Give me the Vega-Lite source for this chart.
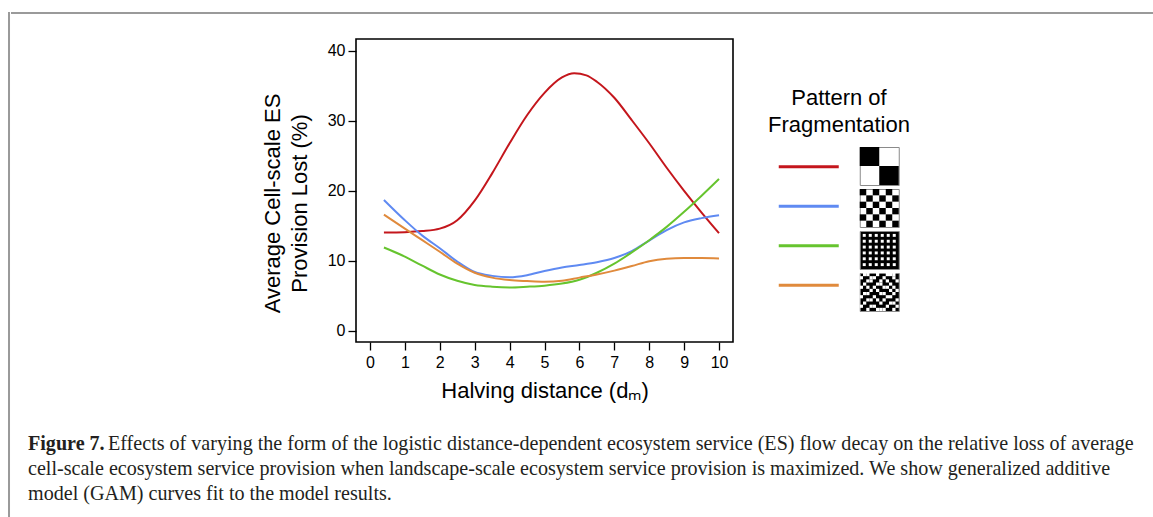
{
  "$schema": "https://vega.github.io/schema/vega-lite/v6.json",
  "background": "white",
  "padding": {"left": 8, "top": 12, "right": 0, "bottom": 0},
  "config": {
    "view": {"stroke": null},
    "font": "Liberation Sans",
    "axis": {
      "domain": false,
      "grid": false,
      "tickColor": "black",
      "tickWidth": 1.3,
      "tickSize": 8,
      "labelColor": "black",
      "labelFont": "Liberation Sans",
      "labelFontSize": 16,
      "titleColor": "black",
      "titleFont": "Liberation Sans",
      "titleFontWeight": "normal"
    }
  },
  "datasets": {
    "curves": [
      {"pattern": "Coarse blocks", "d": 0.4, "loss": 14.05}, {"pattern": "Coarse blocks", "d": 1, "loss": 14.1},
      {"pattern": "Coarse blocks", "d": 1.5, "loss": 14.25}, {"pattern": "Coarse blocks", "d": 2, "loss": 14.6},
      {"pattern": "Coarse blocks", "d": 2.5, "loss": 15.8}, {"pattern": "Coarse blocks", "d": 3, "loss": 18.6},
      {"pattern": "Coarse blocks", "d": 3.5, "loss": 22.5}, {"pattern": "Coarse blocks", "d": 4, "loss": 26.8},
      {"pattern": "Coarse blocks", "d": 4.5, "loss": 30.8}, {"pattern": "Coarse blocks", "d": 5, "loss": 34.0},
      {"pattern": "Coarse blocks", "d": 5.5, "loss": 36.2}, {"pattern": "Coarse blocks", "d": 5.85, "loss": 36.8},
      {"pattern": "Coarse blocks", "d": 6.2, "loss": 36.5}, {"pattern": "Coarse blocks", "d": 6.5, "loss": 35.6},
      {"pattern": "Coarse blocks", "d": 7, "loss": 33.3}, {"pattern": "Coarse blocks", "d": 7.5, "loss": 30.1},
      {"pattern": "Coarse blocks", "d": 8, "loss": 26.8}, {"pattern": "Coarse blocks", "d": 8.5, "loss": 23.3},
      {"pattern": "Coarse blocks", "d": 9, "loss": 20.0}, {"pattern": "Coarse blocks", "d": 9.5, "loss": 16.9},
      {"pattern": "Coarse blocks", "d": 10, "loss": 13.95},

      {"pattern": "Checkerboard", "d": 0.4, "loss": 18.7}, {"pattern": "Checkerboard", "d": 1, "loss": 15.8},
      {"pattern": "Checkerboard", "d": 1.5, "loss": 13.6}, {"pattern": "Checkerboard", "d": 2, "loss": 11.8},
      {"pattern": "Checkerboard", "d": 2.5, "loss": 9.9}, {"pattern": "Checkerboard", "d": 3, "loss": 8.4},
      {"pattern": "Checkerboard", "d": 3.5, "loss": 7.85}, {"pattern": "Checkerboard", "d": 4, "loss": 7.65},
      {"pattern": "Checkerboard", "d": 4.5, "loss": 7.95}, {"pattern": "Checkerboard", "d": 5, "loss": 8.55},
      {"pattern": "Checkerboard", "d": 5.5, "loss": 9.05}, {"pattern": "Checkerboard", "d": 6, "loss": 9.4},
      {"pattern": "Checkerboard", "d": 6.5, "loss": 9.8}, {"pattern": "Checkerboard", "d": 7, "loss": 10.4},
      {"pattern": "Checkerboard", "d": 7.5, "loss": 11.4}, {"pattern": "Checkerboard", "d": 8, "loss": 12.9},
      {"pattern": "Checkerboard", "d": 8.5, "loss": 14.4}, {"pattern": "Checkerboard", "d": 9, "loss": 15.5},
      {"pattern": "Checkerboard", "d": 9.5, "loss": 16.1}, {"pattern": "Checkerboard", "d": 10, "loss": 16.5},

      {"pattern": "Fine grid", "d": 0.4, "loss": 11.9}, {"pattern": "Fine grid", "d": 1, "loss": 10.6},
      {"pattern": "Fine grid", "d": 1.5, "loss": 9.3}, {"pattern": "Fine grid", "d": 2, "loss": 8.05},
      {"pattern": "Fine grid", "d": 2.5, "loss": 7.15}, {"pattern": "Fine grid", "d": 3, "loss": 6.55},
      {"pattern": "Fine grid", "d": 3.5, "loss": 6.3}, {"pattern": "Fine grid", "d": 4, "loss": 6.2},
      {"pattern": "Fine grid", "d": 4.5, "loss": 6.3}, {"pattern": "Fine grid", "d": 5, "loss": 6.45},
      {"pattern": "Fine grid", "d": 5.5, "loss": 6.75}, {"pattern": "Fine grid", "d": 6, "loss": 7.3},
      {"pattern": "Fine grid", "d": 6.5, "loss": 8.3}, {"pattern": "Fine grid", "d": 7, "loss": 9.6},
      {"pattern": "Fine grid", "d": 7.5, "loss": 11.2}, {"pattern": "Fine grid", "d": 8, "loss": 12.95},
      {"pattern": "Fine grid", "d": 8.5, "loss": 14.85}, {"pattern": "Fine grid", "d": 9, "loss": 17.0},
      {"pattern": "Fine grid", "d": 9.5, "loss": 19.3}, {"pattern": "Fine grid", "d": 10, "loss": 21.7},

      {"pattern": "Random", "d": 0.4, "loss": 16.6}, {"pattern": "Random", "d": 1, "loss": 14.6},
      {"pattern": "Random", "d": 1.5, "loss": 12.95}, {"pattern": "Random", "d": 2, "loss": 11.3},
      {"pattern": "Random", "d": 2.5, "loss": 9.6}, {"pattern": "Random", "d": 3, "loss": 8.3},
      {"pattern": "Random", "d": 3.5, "loss": 7.6}, {"pattern": "Random", "d": 4, "loss": 7.25},
      {"pattern": "Random", "d": 4.5, "loss": 7.1}, {"pattern": "Random", "d": 5, "loss": 7.0},
      {"pattern": "Random", "d": 5.5, "loss": 7.15}, {"pattern": "Random", "d": 6, "loss": 7.6},
      {"pattern": "Random", "d": 6.5, "loss": 8.05}, {"pattern": "Random", "d": 7, "loss": 8.6},
      {"pattern": "Random", "d": 7.5, "loss": 9.25}, {"pattern": "Random", "d": 8, "loss": 9.95},
      {"pattern": "Random", "d": 8.5, "loss": 10.3}, {"pattern": "Random", "d": 9, "loss": 10.4},
      {"pattern": "Random", "d": 9.5, "loss": 10.4}, {"pattern": "Random", "d": 10, "loss": 10.35}
    ],
    "patterns": [
      {"pattern": "Coarse blocks"}, {"pattern": "Checkerboard"}, {"pattern": "Fine grid"}, {"pattern": "Random"}
    ],
    "legendTitle": [
      {"k": 0, "t": "Pattern of"}, {"k": 1, "t": "Fragmentation"}
    ],
    "p1": [{"r": 0, "c": 0}, {"r": 1, "c": 1}],
    "p2": [
      {"r": 0, "c": 0}, {"r": 0, "c": 2}, {"r": 0, "c": 4},
      {"r": 1, "c": 1}, {"r": 1, "c": 3}, {"r": 1, "c": 5},
      {"r": 2, "c": 0}, {"r": 2, "c": 2}, {"r": 2, "c": 4},
      {"r": 3, "c": 1}, {"r": 3, "c": 3}, {"r": 3, "c": 5},
      {"r": 4, "c": 0}, {"r": 4, "c": 2}, {"r": 4, "c": 4},
      {"r": 5, "c": 1}, {"r": 5, "c": 3}, {"r": 5, "c": 5}
    ],
    "p3": [
      {"r": 1, "c": 1}, {"r": 1, "c": 3}, {"r": 1, "c": 5}, {"r": 1, "c": 7}, {"r": 1, "c": 9}, {"r": 1, "c": 11},
      {"r": 3, "c": 1}, {"r": 3, "c": 3}, {"r": 3, "c": 5}, {"r": 3, "c": 7}, {"r": 3, "c": 9}, {"r": 3, "c": 11},
      {"r": 5, "c": 1}, {"r": 5, "c": 3}, {"r": 5, "c": 5}, {"r": 5, "c": 7}, {"r": 5, "c": 9}, {"r": 5, "c": 11},
      {"r": 7, "c": 1}, {"r": 7, "c": 3}, {"r": 7, "c": 5}, {"r": 7, "c": 7}, {"r": 7, "c": 9}, {"r": 7, "c": 11},
      {"r": 9, "c": 1}, {"r": 9, "c": 3}, {"r": 9, "c": 5}, {"r": 9, "c": 7}, {"r": 9, "c": 9}, {"r": 9, "c": 11},
      {"r": 11, "c": 1}, {"r": 11, "c": 3}, {"r": 11, "c": 5}, {"r": 11, "c": 7}, {"r": 11, "c": 9}, {"r": 11, "c": 11}
    ],
    "p4": [
      {"r": 0, "c": 1}, {"r": 0, "c": 2}, {"r": 0, "c": 5}, {"r": 0, "c": 8}, {"r": 0, "c": 9}, {"r": 0, "c": 10},
      {"r": 1, "c": 0}, {"r": 1, "c": 3}, {"r": 1, "c": 4}, {"r": 1, "c": 7}, {"r": 1, "c": 10},
      {"r": 2, "c": 2}, {"r": 2, "c": 3}, {"r": 2, "c": 6}, {"r": 2, "c": 8}, {"r": 2, "c": 11},
      {"r": 3, "c": 1}, {"r": 3, "c": 5}, {"r": 3, "c": 6}, {"r": 3, "c": 9},
      {"r": 4, "c": 0}, {"r": 4, "c": 2}, {"r": 4, "c": 4}, {"r": 4, "c": 7}, {"r": 4, "c": 8}, {"r": 4, "c": 10},
      {"r": 5, "c": 3}, {"r": 5, "c": 5}, {"r": 5, "c": 9}, {"r": 5, "c": 11},
      {"r": 6, "c": 1}, {"r": 6, "c": 2}, {"r": 6, "c": 6}, {"r": 6, "c": 7}, {"r": 6, "c": 10},
      {"r": 7, "c": 0}, {"r": 7, "c": 4}, {"r": 7, "c": 8}, {"r": 7, "c": 9},
      {"r": 8, "c": 2}, {"r": 8, "c": 3}, {"r": 8, "c": 5}, {"r": 8, "c": 7}, {"r": 8, "c": 11},
      {"r": 9, "c": 1}, {"r": 9, "c": 6}, {"r": 9, "c": 9}, {"r": 9, "c": 10},
      {"r": 10, "c": 0}, {"r": 10, "c": 3}, {"r": 10, "c": 4}, {"r": 10, "c": 8}, {"r": 10, "c": 11},
      {"r": 11, "c": 2}, {"r": 11, "c": 5}, {"r": 11, "c": 6}, {"r": 11, "c": 7}, {"r": 11, "c": 10}
    ],
    "captionFirst": [
      {"line": 1, "text": "Effects of varying the form of the logistic distance-dependent ecosystem service (ES) flow decay on the relative loss of average"}
    ],
    "captionRest": [
      {"line": 2, "text": "cell-scale ecosystem service provision when landscape-scale ecosystem service provision is maximized. We show generalized additive"},
      {"line": 3, "text": "model (GAM) curves fit to the model results."}
    ],
    "captionLabel": [{"line": 1, "text": "Figure 7."}]
  },
  "spacing": 0,
  "hconcat": [
    {
      "width": 0.01,
      "height": 505,
      "view": {"stroke": "#9a9a9a", "strokeWidth": 2},
      "data": {"values": []},
      "mark": "point"
    },
    {
      "spacing": 23,
      "vconcat": [
        {
          "width": 1145,
          "height": 0.01,
          "view": {"stroke": "#9a9a9a", "strokeWidth": 2},
          "data": {"values": []},
          "mark": "point"
        },
        {
          "spacing": 29,
          "resolve": {"scale": {"x": "independent", "y": "independent"}},
          "vconcat": [
            {
              "spacing": 33,
              "resolve": {"scale": {"x": "independent", "y": "independent"}},
              "hconcat": [
                {
                  "width": 215,
                  "height": 0.01,
                  "data": {"values": []},
                  "mark": "point"
                },
                {
                  "width": 377,
                  "height": 303,
                  "view": {"stroke": "black", "strokeWidth": 1.6},
                  "data": {"name": "curves"},
                  "mark": {"type": "line", "interpolate": "monotone", "strokeWidth": 2},
                  "encoding": {
                    "x": {
                      "field": "d",
                      "type": "quantitative",
                      "scale": {"domain": [-0.4, 10.4], "nice": false, "zero": false},
                      "axis": {
                        "values": [0, 1, 2, 3, 4, 5, 6, 7, 8, 9, 10],
                        "labelPadding": 4,
                        "title": "Halving distance (dₘ)",
                        "titleFontSize": 22,
                        "titlePadding": 10
                      }
                    },
                    "y": {
                      "field": "loss",
                      "type": "quantitative",
                      "scale": {"domain": [-1.6, 41.7], "nice": false, "zero": false},
                      "axis": {
                        "values": [0, 10, 20, 30, 40],
                        "labelPadding": 3,
                        "title": ["Average Cell-scale ES", "Provision Lost (%)"],
                        "titleFontSize": 22,
                        "titleLineHeight": 27,
                        "titlePadding": 16,
                        "titleY": 164
                      }
                    },
                    "color": {
                      "field": "pattern",
                      "type": "nominal",
                      "scale": {
                        "domain": ["Coarse blocks", "Checkerboard", "Fine grid", "Random"],
                        "range": ["#c4161c", "#5f8af2", "#66c42e", "#e08a3c"]
                      },
                      "legend": null
                    }
                  }
                },
                {
                  "spacing": 7,
                  "center": true,
                  "resolve": {"scale": {"x": "independent", "y": "independent"}},
                  "vconcat": [
                    {
                      "width": 144,
                      "height": 100,
                      "data": {"name": "legendTitle"},
                      "mark": {"type": "text", "fontSize": 22, "font": "Liberation Sans", "align": "center", "baseline": "middle", "color": "black"},
                      "encoding": {
                        "x": {"datum": 0.5, "type": "quantitative", "scale": {"domain": [0, 1]}, "axis": null},
                        "y": {"field": "k", "type": "ordinal", "scale": {"type": "band", "paddingInner": 0, "paddingOuter": 0.85, "align": 1}, "axis": null},
                        "text": {"field": "t"}
                      }
                    },
                    {
                      "spacing": 18,
                      "resolve": {"scale": {"x": "independent", "y": "independent"}},
                      "hconcat": [
                        {
                          "width": 60,
                          "height": 158,
                          "data": {"name": "patterns"},
                          "mark": {"type": "rule", "strokeWidth": 3},
                          "encoding": {
                            "x": {"datum": 0, "type": "quantitative", "scale": {"domain": [0, 1]}, "axis": null},
                            "x2": {"datum": 1},
                            "y": {"field": "pattern", "type": "nominal", "sort": null, "scale": {"type": "point", "padding": 0.5, "domain": ["Coarse blocks", "Checkerboard", "Fine grid", "Random"]}, "axis": null},
                            "color": {
                              "field": "pattern",
                              "type": "nominal",
                              "scale": {
                                "domain": ["Coarse blocks", "Checkerboard", "Fine grid", "Random"],
                                "range": ["#c4161c", "#5f8af2", "#66c42e", "#e08a3c"]
                              },
                              "legend": null
                            }
                          }
                        },
                        {
                          "spacing": 2,
                          "resolve": {"scale": {"x": "independent", "y": "independent"}},
                          "vconcat": [
                            {
                              "width": 39, "height": 38,
                              "view": {"stroke": "#8a8a8a", "strokeWidth": 1, "fill": "white"},
                              "data": {"name": "p1"},
                              "mark": {"type": "rect", "color": "black"},
                              "encoding": {
                                "x": {"field": "c", "type": "ordinal", "scale": {"domain": [0, 1], "padding": 0}, "axis": null},
                                "y": {"field": "r", "type": "ordinal", "scale": {"domain": [0, 1], "padding": 0}, "axis": null}
                              }
                            },
                            {
                              "width": 39, "height": 38,
                              "view": {"stroke": "#8a8a8a", "strokeWidth": 1, "fill": "white"},
                              "data": {"name": "p2"},
                              "mark": {"type": "rect", "color": "black"},
                              "encoding": {
                                "x": {"field": "c", "type": "ordinal", "scale": {"domain": [0, 1, 2, 3, 4, 5], "padding": 0}, "axis": null},
                                "y": {"field": "r", "type": "ordinal", "scale": {"domain": [0, 1, 2, 3, 4, 5], "padding": 0}, "axis": null}
                              }
                            },
                            {
                              "width": 39, "height": 38,
                              "view": {"stroke": "#8a8a8a", "strokeWidth": 1, "fill": "black"},
                              "data": {"name": "p3"},
                              "mark": {"type": "rect", "color": "white"},
                              "encoding": {
                                "x": {"field": "c", "type": "ordinal", "scale": {"domain": [0, 1, 2, 3, 4, 5, 6, 7, 8, 9, 10, 11, 12], "padding": 0}, "axis": null},
                                "y": {"field": "r", "type": "ordinal", "scale": {"domain": [0, 1, 2, 3, 4, 5, 6, 7, 8, 9, 10, 11, 12], "padding": 0}, "axis": null}
                              }
                            },
                            {
                              "width": 39, "height": 38,
                              "view": {"stroke": "#8a8a8a", "strokeWidth": 1, "fill": "black"},
                              "data": {"name": "p4"},
                              "mark": {"type": "rect", "color": "white"},
                              "encoding": {
                                "x": {"field": "c", "type": "ordinal", "scale": {"domain": [0, 1, 2, 3, 4, 5, 6, 7, 8, 9, 10, 11], "padding": 0}, "axis": null},
                                "y": {"field": "r", "type": "ordinal", "scale": {"domain": [0, 1, 2, 3, 4, 5, 6, 7, 8, 9, 10, 11], "padding": 0}, "axis": null}
                              }
                            }
                          ]
                        }
                      ]
                    }
                  ]
                }
              ]
            },
            {
              "spacing": 0,
              "hconcat": [
                {
                  "width": 16,
                  "height": 0.01,
                  "data": {"values": []},
                  "mark": "point"
                },
                {
                  "width": 1114,
                  "height": 75,
                  "view": {"fill": "white"},
                  "layer": [
                    {
                      "data": {"name": "captionLabel"},
                      "mark": {"type": "text", "font": "Liberation Serif", "fontSize": 20.1, "fontWeight": "bold", "align": "left", "baseline": "middle", "color": "#231f20"},
                      "encoding": {
                        "x": {"datum": 0, "type": "quantitative", "scale": {"domain": [0, 1]}, "axis": null},
                        "y": {"field": "line", "type": "ordinal", "scale": {"domain": [1, 2, 3], "type": "band", "padding": 0}, "axis": null},
                        "text": {"field": "text"}
                      }
                    },
                    {
                      "data": {"name": "captionFirst"},
                      "mark": {"type": "text", "font": "Liberation Serif", "fontSize": 20.1, "align": "left", "baseline": "middle", "color": "#231f20", "dx": 80},
                      "encoding": {
                        "x": {"datum": 0, "type": "quantitative", "scale": {"domain": [0, 1]}, "axis": null},
                        "y": {"field": "line", "type": "ordinal", "scale": {"domain": [1, 2, 3], "type": "band", "padding": 0}, "axis": null},
                        "text": {"field": "text"}
                      }
                    },
                    {
                      "data": {"name": "captionRest"},
                      "mark": {"type": "text", "font": "Liberation Serif", "fontSize": 20.1, "align": "left", "baseline": "middle", "color": "#231f20"},
                      "encoding": {
                        "x": {"datum": 0, "type": "quantitative", "scale": {"domain": [0, 1]}, "axis": null},
                        "y": {"field": "line", "type": "ordinal", "scale": {"domain": [1, 2, 3], "type": "band", "padding": 0}, "axis": null},
                        "text": {"field": "text"}
                      }
                    }
                  ]
                }
              ]
            }
          ]
        }
      ]
    }
  ]
}
